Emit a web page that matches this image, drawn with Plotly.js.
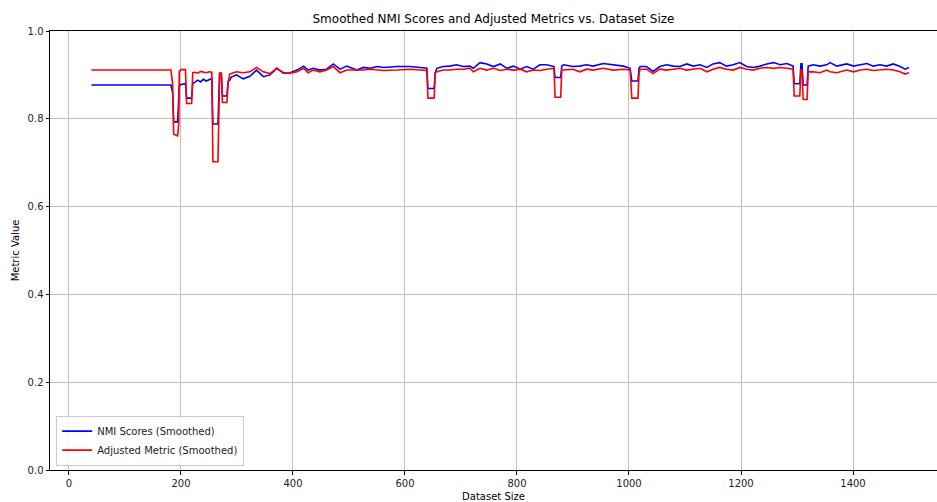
<!DOCTYPE html>
<html>
<head>
<meta charset="utf-8">
<script src="https://cdn.plot.ly/plotly-3.0.1.min.js"></script>
<style>html,body{margin:0;padding:0;background:#fff}#chart{width:937px;height:502px}</style>
</head>
<body>
<div id="chart"></div>
<script>
const datasetSize = [
  40, 182, 185, 187, 194, 196, 197, 200, 208, 210, 219, 221, 225, 230, 235, 240, 245, 250, 255,
  257, 266, 269, 272, 274, 282, 284, 287,
  290, 299, 311, 323, 335, 347, 359, 371, 383, 395, 407, 419, 427, 436, 448, 460, 472, 484, 496,
  514, 526, 538, 550, 562, 586, 609, 627, 639, 641, 652, 654, 657, 668, 680, 692, 704, 716,
  722, 734, 746, 758, 770, 782, 794, 806, 817, 829, 841, 853, 866, 868, 878, 880, 883, 900, 912,
  924, 936, 954, 972, 990, 1002, 1005, 1016, 1018, 1020, 1031, 1043, 1055, 1067, 1079, 1091,
  1103, 1115, 1127, 1139, 1150, 1162, 1174, 1186, 1198, 1210, 1222, 1234, 1246, 1258, 1270,
  1282, 1293, 1295, 1305, 1307, 1309, 1311, 1318, 1320, 1329, 1341, 1353, 1359, 1371, 1389,
  1401, 1413, 1425, 1436, 1448, 1460, 1472, 1484, 1493, 1500
];
const nmiSmoothed = [
  0.877, 0.877, 0.860, 0.793, 0.793, 0.860, 0.875, 0.878, 0.880, 0.847, 0.847, 0.880, 0.883, 0.888, 0.884, 0.890, 0.886, 0.890, 0.892,
  0.788, 0.788, 0.903, 0.903, 0.852, 0.852, 0.885, 0.888,
  0.895, 0.900, 0.891, 0.897, 0.911, 0.896, 0.900, 0.915, 0.904, 0.905, 0.911, 0.920, 0.911, 0.915, 0.911, 0.913, 0.925, 0.913, 0.920,
  0.911, 0.917, 0.915, 0.919, 0.917, 0.919, 0.919, 0.917, 0.915, 0.869, 0.869, 0.905, 0.915, 0.919, 0.920, 0.923, 0.919, 0.920,
  0.915, 0.928, 0.925, 0.919, 0.925, 0.915, 0.920, 0.913, 0.919, 0.913, 0.923, 0.923, 0.919, 0.894, 0.894, 0.920, 0.923, 0.919, 0.920,
  0.923, 0.920, 0.926, 0.923, 0.920, 0.915, 0.886, 0.886, 0.915, 0.919, 0.919, 0.908, 0.919, 0.923, 0.920, 0.919,
  0.925, 0.920, 0.923, 0.917, 0.925, 0.928, 0.920, 0.923, 0.928, 0.919, 0.917, 0.920, 0.925, 0.928, 0.923,
  0.926, 0.920, 0.880, 0.880, 0.925, 0.925, 0.877, 0.877, 0.920, 0.923, 0.920, 0.923, 0.928, 0.920, 0.925,
  0.920, 0.923, 0.926, 0.920, 0.923, 0.920, 0.925, 0.919, 0.913, 0.917
];
const adjustedSmoothed = [
  0.911, 0.911, 0.880, 0.765, 0.761, 0.790, 0.908, 0.912, 0.912, 0.835, 0.835, 0.905, 0.906, 0.904, 0.908, 0.906, 0.905, 0.907, 0.906,
  0.702, 0.702, 0.904, 0.904, 0.837, 0.837, 0.880, 0.902,
  0.903, 0.907, 0.905, 0.907, 0.917, 0.907, 0.903, 0.915, 0.905, 0.904, 0.907, 0.915, 0.905, 0.911, 0.907, 0.911, 0.919, 0.905, 0.911,
  0.910, 0.911, 0.913, 0.911, 0.910, 0.911, 0.913, 0.911, 0.910, 0.847, 0.847, 0.905, 0.907, 0.911, 0.911, 0.913, 0.913, 0.915,
  0.907, 0.915, 0.911, 0.915, 0.910, 0.913, 0.911, 0.913, 0.907, 0.911, 0.910, 0.913, 0.915, 0.849, 0.849, 0.911, 0.911, 0.913, 0.907,
  0.913, 0.911, 0.915, 0.911, 0.913, 0.911, 0.847, 0.847, 0.905, 0.913, 0.913, 0.903, 0.913, 0.911, 0.913, 0.915,
  0.911, 0.913, 0.915, 0.907, 0.913, 0.917, 0.913, 0.911, 0.917, 0.913, 0.911, 0.915, 0.917, 0.915, 0.917,
  0.915, 0.913, 0.852, 0.852, 0.911, 0.911, 0.844, 0.844, 0.907, 0.907, 0.905, 0.911, 0.907, 0.905, 0.911,
  0.907, 0.911, 0.913, 0.910, 0.911, 0.913, 0.911, 0.907, 0.902, 0.905
];
const seriesNames = ["NMI Scores (Smoothed)", "Adjusted Metric (Smoothed)"];
const xTicks = [0, 200, 400, 600, 800, 1000, 1200, 1400];
const yTicks = [0.0, 0.2, 0.4, 0.6, 0.8, 1.0];

const traces = [
  {x: datasetSize, y: nmiSmoothed, name: seriesNames[0], type: "scatter", mode: "lines",
   line: {color: "#0000ff", width: 1.6}},
  {x: datasetSize, y: adjustedSmoothed, name: seriesNames[1], type: "scatter", mode: "lines",
   line: {color: "#ff0000", width: 1.6}}
];
const font = {family: "DejaVu Sans, sans-serif", size: 10, color: "#222"};
const layout = {
  width: 937, height: 502,
  margin: {l: 50, r: 0, t: 31, b: 32},
  paper_bgcolor: "#fff", plot_bgcolor: "#fff",
  font: font,
  title: {text: "Smoothed NMI Scores and Adjusted Metrics vs. Dataset Size",
          font: {family: "DejaVu Sans, sans-serif", size: 12, color: "#000"},
          x: 0.5, xref: "paper", y: 1, yref: "container", yanchor: "top", pad: {t: 15}},
  xaxis: {range: [-33.9, 1550], tickvals: xTicks, ticktext: xTicks.map(String),
          showgrid: true, gridcolor: "#b0b0b0", gridwidth: 0.8,
          showline: true, linecolor: "#000", linewidth: 1, mirror: true,
          ticks: "outside", ticklen: 3.5, tickcolor: "#000", zeroline: false,
          title: {text: "Dataset Size", font: {size: 10, color: "#000"}, standoff: 5}},
  yaxis: {range: [0, 1], tickvals: yTicks, ticktext: yTicks.map(v => v.toFixed(1)),
          showgrid: true, gridcolor: "#b0b0b0", gridwidth: 0.8,
          showline: true, linecolor: "#000", linewidth: 1,
          ticks: "outside", ticklen: 3.5, tickcolor: "#000", zeroline: false,
          title: {text: "Metric Value", font: {size: 10, color: "#000"}, standoff: 6}},
  legend: {x: 0.007, y: 0.01, xanchor: "left", yanchor: "bottom",
           bgcolor: "rgba(255,255,255,0.8)", bordercolor: "#cccccc", borderwidth: 1,
           font: {size: 10, color: "#222"}, tracegroupgap: 0},
  showlegend: true
};
Plotly.newPlot("chart", traces, layout, {displayModeBar: false, staticPlot: true});
</script>
</body>
</html>
